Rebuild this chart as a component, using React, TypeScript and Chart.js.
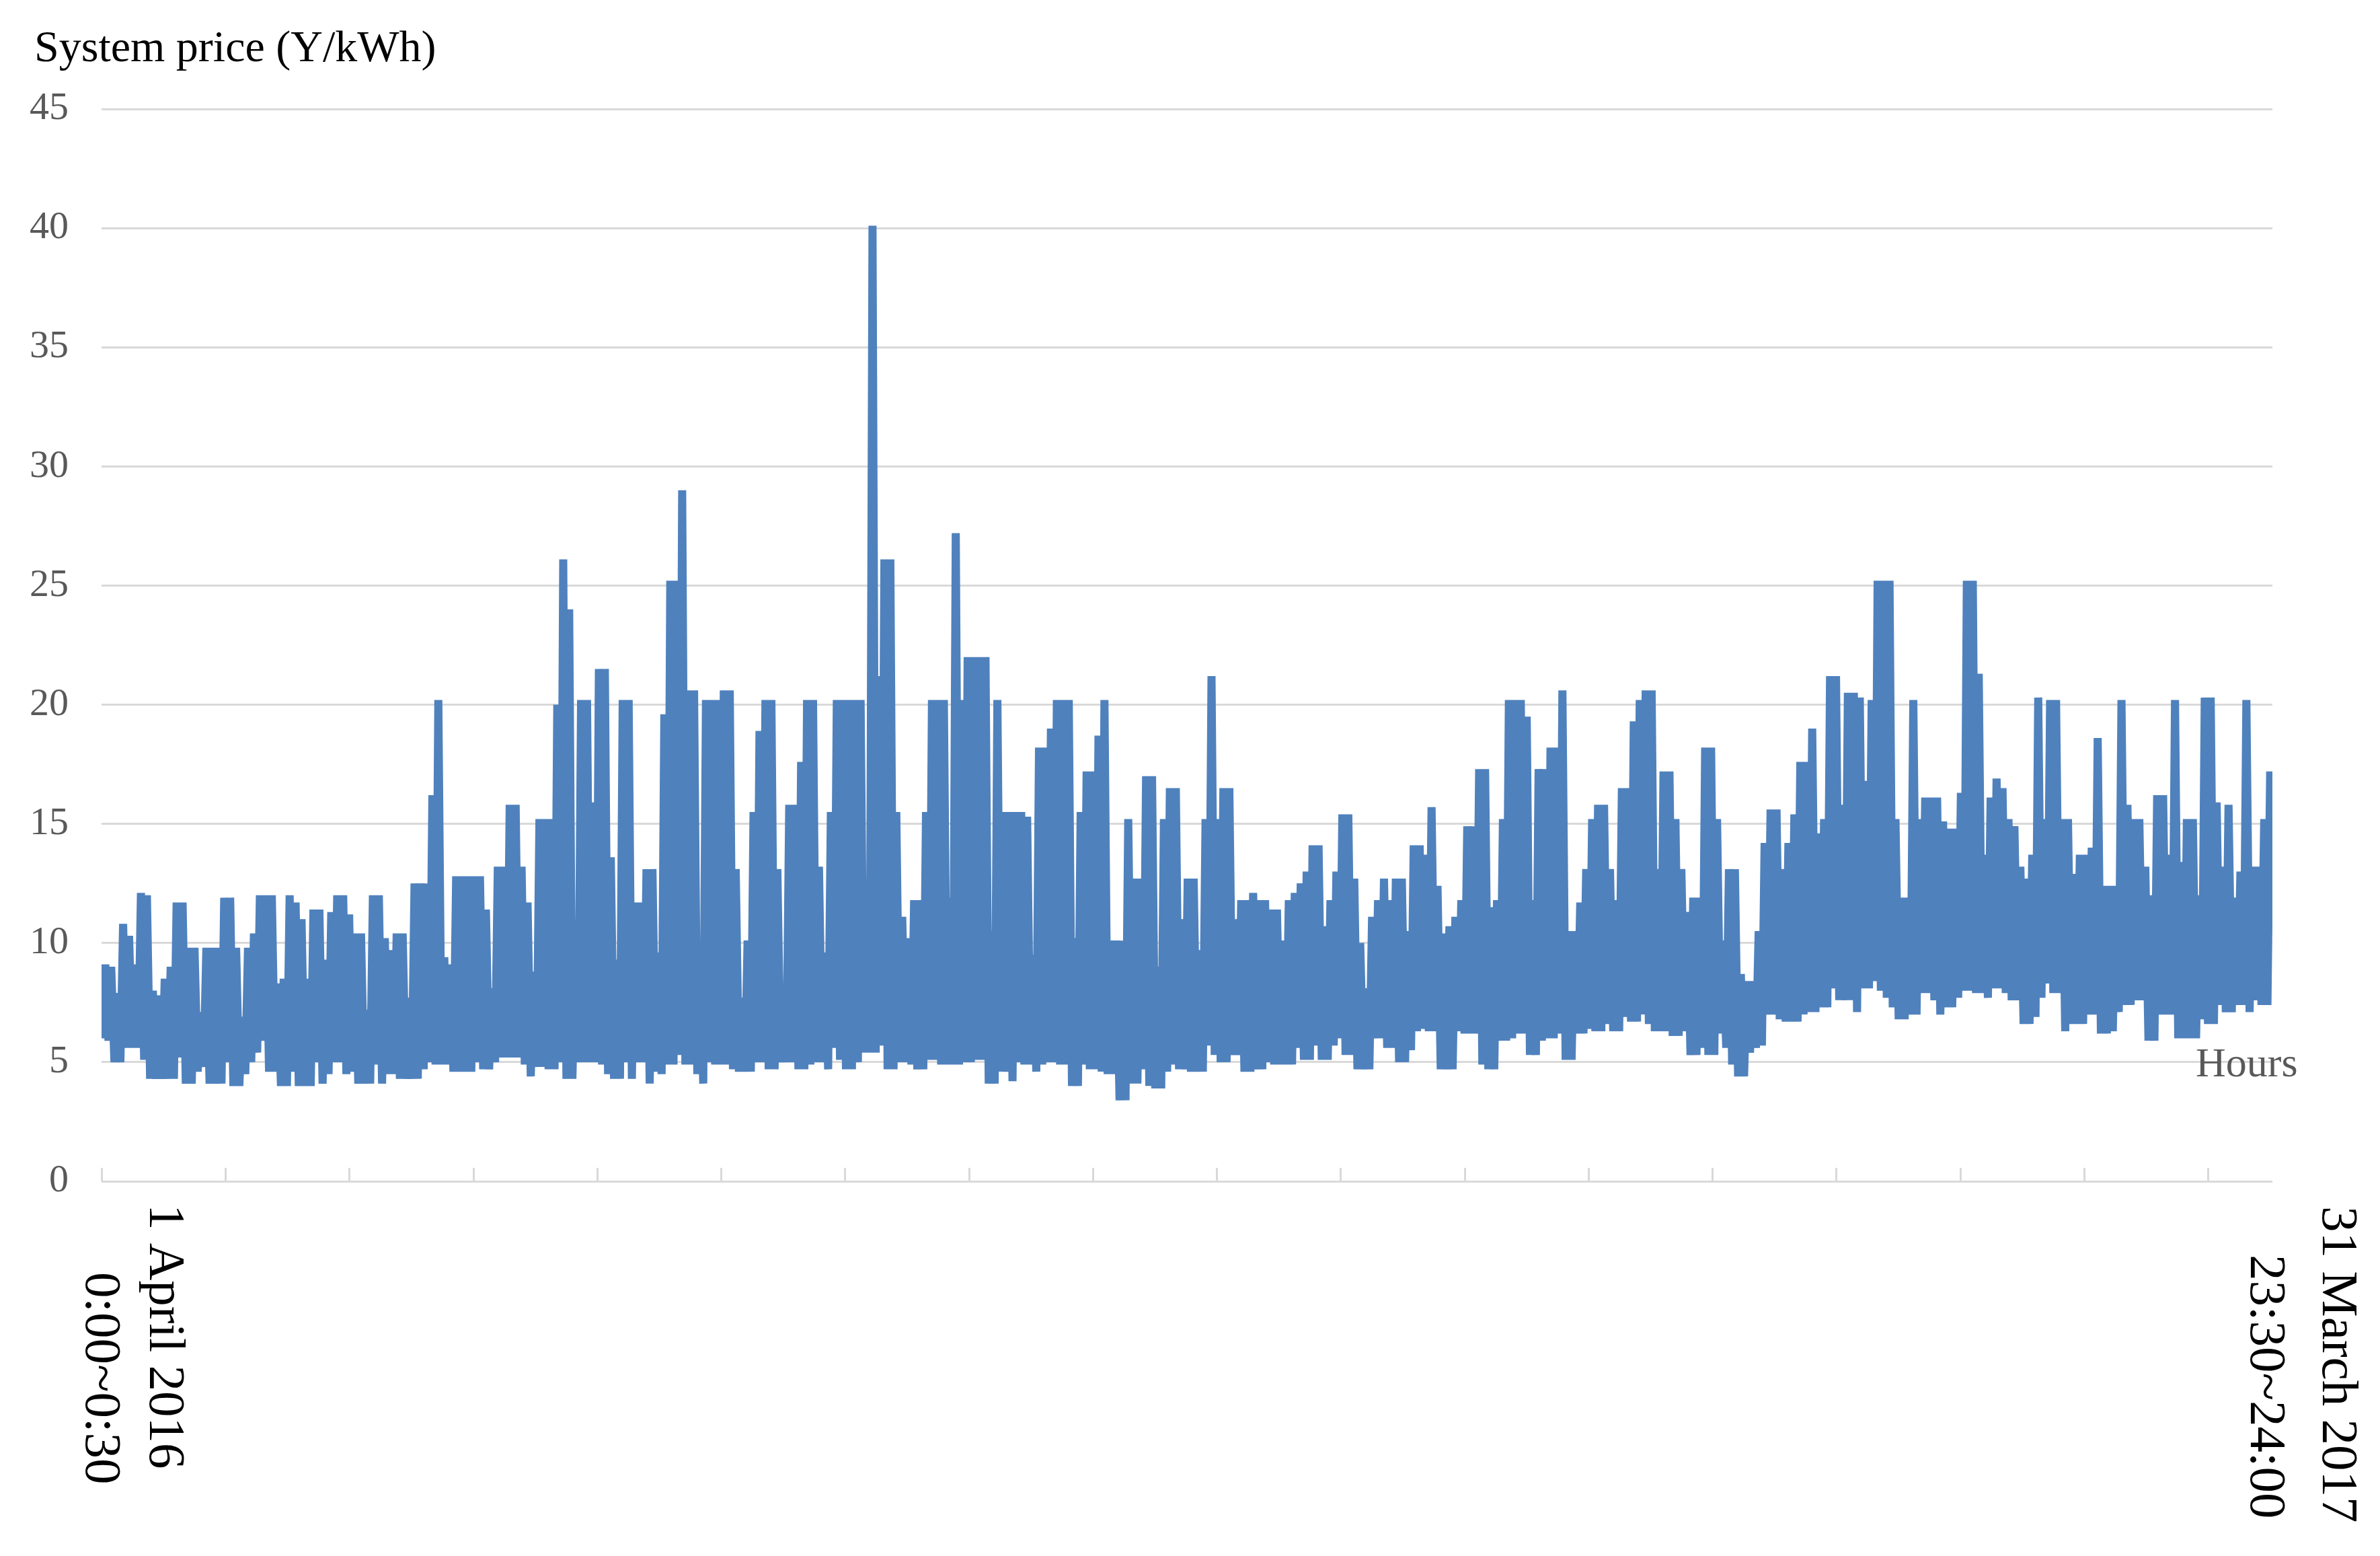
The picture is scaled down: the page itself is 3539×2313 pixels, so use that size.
import React, { useEffect, useRef } from 'react';
import { Chart, registerables } from 'chart.js';

Chart.register(...registerables);

// ---- Data ----
// One year of half-hourly system prices, 1 April 2016 .. 31 March 2017 (365 days x 48 slots)
const TOTAL_SLOTS = 17520;
const SLOTS_PER_DAY = 48;
const LOW_SLOT = 8; // night-time trough (~04:00)
const HIGH_SLOT = 30; // daytime peak (~15:00)

// Daily maximum price (Y/kWh)
const dailyHigh = [
  9.1, 9.0, 7.9, 10.8, 10.3, 9.1, 12.1, 12.0, 8.0, 7.8,
  8.5, 9.0, 11.7, 11.7, 9.8, 9.8, 7.1, 9.8, 9.8, 9.8,
  11.9, 11.9, 9.8, 6.9, 9.8, 10.4, 12.0, 12.0, 12.0, 8.3,
  8.5, 12.0, 11.7, 11.0, 8.5, 11.4, 11.4, 9.3, 11.3, 12.0,
  12.0, 11.2, 10.4, 10.4, 7.2, 12.0, 12.0, 10.2, 9.7, 10.4,
  10.4, 7.7, 12.5, 12.5, 12.5, 16.2, 20.2, 9.4, 9.1, 12.8,
  12.8, 12.8, 12.8, 12.8, 11.4, 8.1, 13.2, 13.2, 15.8, 15.8,
  13.2, 11.7, 8.8, 15.2, 15.2, 15.2, 20.0, 26.1, 24.0, 9.4,
  20.2, 20.2, 15.9, 21.5, 21.5, 13.6, 9.3, 20.2, 20.2, 11.7,
  11.7, 13.1, 13.1, 9.6, 19.6, 25.2, 25.2, 29.0, 20.6, 20.6,
  9.6, 20.2, 20.2, 20.2, 20.6, 20.6, 13.1, 7.7, 10.1, 15.5,
  18.9, 20.2, 20.2, 13.1, 7.8, 15.8, 15.8, 17.6, 20.2, 20.2,
  13.2, 9.6, 15.5, 20.2, 20.2, 20.2, 20.2, 20.2, 11.1, 40.1,
  21.2, 26.1, 26.1, 15.5, 11.1, 10.2, 11.8, 11.8, 15.5, 20.2,
  20.2, 20.2, 11.9, 27.2, 20.2, 22.0, 22.0, 22.0, 22.0, 10.5,
  20.2, 15.5, 15.5, 15.5, 15.5, 15.3, 9.5, 18.2, 18.2, 19.0,
  20.2, 20.2, 20.2, 10.2, 15.5, 17.2, 17.2, 18.7, 20.2, 10.1,
  10.1, 10.1, 15.2, 12.7, 12.7, 17.0, 17.0, 9.0, 15.2, 16.5,
  16.5, 11.0, 12.7, 12.7, 9.7, 15.2, 21.2, 15.2, 16.5, 16.5,
  11.0, 11.8, 11.8, 12.1, 11.8, 11.8, 11.4, 11.4, 10.1, 11.8,
  12.1, 12.5, 13.0, 14.1, 14.1, 10.7, 11.8, 13.0, 15.4, 15.4,
  12.7, 10.0, 8.1, 11.1, 11.8, 12.7, 11.8, 12.7, 12.7, 10.5,
  14.1, 14.1, 13.7, 15.7, 12.4, 10.4, 10.7, 11.1, 11.8, 14.9,
  14.9, 17.3, 17.3, 11.5, 11.8, 15.2, 20.2, 20.2, 20.2, 19.5,
  11.8, 17.3, 17.3, 18.2, 18.2, 20.6, 10.5, 10.5, 11.7, 13.1,
  15.2, 15.8, 15.8, 13.1, 11.8, 16.5, 16.5, 19.3, 20.2, 20.6,
  20.6, 13.1, 17.2, 17.2, 15.2, 13.1, 11.3, 11.9, 11.9, 18.2,
  18.2, 15.2, 10.1, 13.1, 13.1, 8.7, 8.4, 8.4, 10.5, 14.2,
  15.6, 15.6, 13.1, 14.2, 15.4, 17.6, 17.6, 19.0, 14.6, 15.2,
  21.2, 21.2, 15.8, 20.5, 20.5, 20.3, 16.8, 20.2, 25.2, 25.2,
  25.2, 15.2, 11.9, 11.9, 20.2, 15.2, 16.1, 16.1, 16.1, 15.1,
  14.8, 14.8, 16.3, 25.2, 25.2, 21.3, 13.7, 16.1, 16.9, 16.5,
  15.2, 14.9, 13.2, 12.7, 13.7, 20.3, 15.2, 20.2, 20.2, 15.2,
  15.2, 12.9, 13.7, 13.7, 14.0, 18.6, 12.4, 12.4, 12.4, 20.2,
  15.8, 15.2, 15.2, 13.2, 12.0, 16.2, 16.2, 13.7, 20.2, 13.4,
  15.2, 15.2, 12.0, 20.3, 20.3, 15.9, 13.2, 15.8, 11.9, 13.0,
  20.2, 13.2, 13.2, 15.2, 17.2,
];

// Daily minimum price (Y/kWh)
const dailyLow = [
  6.0, 5.9, 5.0, 5.0, 5.6, 5.6, 5.6, 5.1, 4.3, 4.3,
  4.3, 4.3, 4.3, 5.2, 4.1, 4.1, 4.6, 4.8, 4.1, 4.1,
  4.1, 5.0, 4.0, 4.0, 4.5, 5.0, 5.4, 5.9, 4.6, 4.6,
  4.0, 4.0, 4.6, 4.0, 4.0, 4.0, 5.0, 4.1, 4.5, 5.0,
  5.0, 4.5, 4.6, 4.1, 4.1, 4.1, 4.9, 4.1, 4.5, 4.5,
  4.3, 4.3, 4.3, 4.3, 4.7, 5.0, 4.9, 4.9, 4.9, 4.6,
  4.6, 4.6, 4.6, 5.0, 4.7, 4.7, 5.0, 5.2, 5.2, 5.2,
  5.2, 4.9, 4.4, 4.8, 4.8, 4.7, 4.7, 5.0, 4.3, 4.3,
  5.0, 5.0, 5.0, 5.0, 4.9, 4.5, 4.3, 4.3, 5.0, 4.3,
  5.0, 5.0, 4.1, 4.6, 4.5, 4.9, 4.9, 5.3, 4.9, 4.9,
  4.5, 4.1, 5.0, 4.9, 4.9, 4.9, 4.7, 4.6, 4.6, 4.6,
  5.0, 5.0, 4.7, 4.7, 5.0, 5.0, 5.0, 4.7, 4.7, 4.9,
  5.0, 5.0, 4.7, 5.6, 5.1, 4.7, 4.7, 5.0, 5.4, 5.4,
  5.4, 5.7, 4.7, 4.7, 5.0, 5.0, 4.9, 4.7, 4.7, 5.1,
  5.1, 4.9, 4.9, 4.9, 4.9, 5.0, 5.0, 5.1, 5.1, 4.1,
  4.1, 4.6, 4.6, 4.2, 5.0, 4.9, 4.9, 4.6, 4.9, 5.0,
  5.0, 4.9, 4.9, 4.0, 4.0, 4.9, 4.7, 4.7, 4.6, 4.5,
  4.5, 3.4, 3.4, 4.1, 4.1, 4.7, 4.0, 3.9, 3.9, 4.6,
  4.9, 4.7, 4.7, 4.6, 4.6, 4.6, 5.7, 5.3, 5.0, 5.0,
  5.3, 5.3, 4.6, 4.6, 4.7, 4.7, 5.0, 4.9, 4.9, 4.9,
  4.9, 5.6, 5.1, 5.1, 5.7, 5.1, 5.1, 5.7, 6.0, 5.3,
  5.3, 4.7, 4.7, 4.7, 6.0, 6.0, 5.6, 5.6, 5.0, 5.0,
  5.5, 6.3, 6.4, 6.3, 6.3, 4.7, 4.7, 4.7, 6.3, 6.2,
  6.2, 6.2, 4.9, 4.7, 4.7, 5.9, 5.9, 6.0, 6.2, 6.2,
  5.3, 5.3, 5.9, 6.0, 6.0, 6.2, 5.1, 5.1, 6.2, 6.2,
  6.4, 6.3, 6.3, 6.6, 6.3, 6.3, 6.9, 6.7, 6.7, 7.0,
  6.6, 6.3, 6.3, 6.3, 6.1, 6.1, 6.3, 5.3, 5.3, 5.6,
  5.3, 5.3, 6.2, 5.6, 4.9, 4.4, 4.4, 5.4, 5.6, 5.7,
  7.0, 7.0, 6.8, 6.7, 6.7, 6.7, 7.0, 7.1, 7.1, 7.3,
  7.3, 8.1, 7.6, 7.6, 7.6, 7.1, 8.1, 8.1, 8.4, 8.0,
  7.7, 7.3, 6.8, 6.8, 7.0, 7.0, 7.9, 7.9, 7.6, 7.0,
  7.3, 7.3, 7.7, 8.0, 8.0, 7.9, 7.9, 7.7, 8.1, 8.1,
  7.9, 7.6, 7.6, 6.6, 6.6, 6.9, 7.7, 8.3, 7.9, 7.9,
  6.3, 6.6, 6.6, 6.6, 7.0, 7.0, 6.2, 6.2, 6.3, 7.1,
  7.4, 7.4, 7.6, 7.6, 5.9, 5.9, 7.0, 7.0, 7.0, 6.0,
  6.0, 6.0, 6.0, 6.8, 6.6, 6.6, 7.4, 7.1, 7.1, 7.4,
  7.4, 7.1, 7.6, 7.4, 7.4,
];

const Y_MIN = 0;
const Y_MAX = 45;
const Y_STEP = 5;
const X_TICK_STEP = 1000; // tick mark every 1000 half-hour slots

const yTitle = 'System price (Y/kWh)';
const xTitle = 'Hours';
const startLabel = ['1 April 2016', '0:00~0:30'];
const endLabel = ['31 March 2017', '23:30~24:00'];

// ---- Styles ----
const LINE_COLOR = '#4F81BD';
const GRID_COLOR = '#D9D9D9';
const TICK_TEXT = '#595959';
const SERIF = '"Liberation Serif", "Times New Roman", serif';
const W = 3539;
const H = 2313;

function buildPoints() {
  const pts: { x: number; y: number }[] = [];
  for (let d = 0; d < dailyHigh.length; d++) {
    pts.push({ x: d * SLOTS_PER_DAY + LOW_SLOT, y: dailyLow[d] });
    pts.push({ x: d * SLOTS_PER_DAY + HIGH_SLOT, y: dailyHigh[d] });
  }
  return pts;
}

const textPlugin = {
  id: 'textDecor',
  afterDraw(chart: any) {
    const ctx: CanvasRenderingContext2D = chart.ctx;
    const xs = chart.scales.x;
    const area = chart.chartArea;
    ctx.save();

    // inside tick marks on the category axis
    ctx.strokeStyle = GRID_COLOR;
    ctx.lineWidth = 3;
    for (let v = 0; v < TOTAL_SLOTS; v += X_TICK_STEP) {
      const px = Math.round(xs.getPixelForValue(v)) + 0.5;
      ctx.beginPath();
      ctx.moveTo(px, area.bottom);
      ctx.lineTo(px, area.bottom - 20);
      ctx.stroke();
    }

    // axis title (top-left)
    ctx.fillStyle = '#000000';
    ctx.font = `66px ${SERIF}`;
    ctx.textAlign = 'left';
    ctx.textBaseline = 'alphabetic';
    ctx.fillText(yTitle, 51, 91);

    // "Hours"
    ctx.fillStyle = TICK_TEXT;
    ctx.font = `62px ${SERIF}`;
    ctx.fillText(xTitle, area.right - 114, area.bottom - 156);

    // rotated first / last category labels
    ctx.fillStyle = '#000000';
    ctx.font = `77px ${SERIF}`;
    const edge = [
      { value: 0, lines: startLabel, dx: [92, -3], dy: [34, 135] },
      { value: TOTAL_SLOTS, lines: endLabel, dx: [95, -12], dy: [37, 109] },
    ];
    for (const e of edge) {
      const px = xs.getPixelForValue(e.value);
      e.lines.forEach((txt, i) => {
        ctx.save();
        ctx.translate(px + e.dx[i], area.bottom + e.dy[i]);
        ctx.rotate(Math.PI / 2);
        ctx.textAlign = 'left';
        ctx.textBaseline = 'middle';
        ctx.fillText(txt, 0, 0);
        ctx.restore();
      });
    }
    ctx.restore();
  },
};

export default function App() {
  const ref = useRef<HTMLCanvasElement | null>(null);

  useEffect(() => {
    document.body.style.margin = '0';
    document.body.style.overflow = 'hidden';
    const canvas = ref.current;
    if (!canvas) return;
    const chart = new Chart(canvas, {
      type: 'line',
      data: {
        datasets: [
          {
            label: 'System price',
            data: buildPoints(),
            borderColor: LINE_COLOR,
            backgroundColor: LINE_COLOR,
            borderWidth: 12,
            borderJoinStyle: 'bevel',
            borderCapStyle: 'butt',
            pointRadius: 0,
            tension: 0,
            fill: false,
          },
        ],
      },
      options: {
        responsive: false,
        animation: false,
        devicePixelRatio: 1,
        layout: { padding: { left: 0, top: 162, right: 160, bottom: 0 } },
        plugins: {
          legend: { display: false },
          tooltip: { enabled: false },
          title: { display: false },
        },
        scales: {
          x: {
            type: 'linear',
            min: 0,
            max: TOTAL_SLOTS,
            ticks: { display: false },
            grid: { display: false },
            border: { display: false },
            afterFit: (s: any) => {
              s.height = 557;
            },
          },
          y: {
            min: Y_MIN,
            max: Y_MAX,
            ticks: {
              stepSize: Y_STEP,
              padding: 49,
              color: TICK_TEXT,
              font: { family: SERIF, size: 58 },
            },
            grid: { color: GRID_COLOR, lineWidth: 3, drawTicks: false },
            border: { display: false },
            afterFit: (s: any) => {
              s.width = 151;
            },
          },
        },
      },
      plugins: [textPlugin],
    } as any);
    return () => chart.destroy();
  }, []);

  return (
    <div style={{ position: 'absolute', left: 0, top: 0, width: W, height: H, background: '#ffffff' }}>
      <canvas ref={ref} width={W} height={H} style={{ width: W, height: H, display: 'block' }} />
    </div>
  );
}
